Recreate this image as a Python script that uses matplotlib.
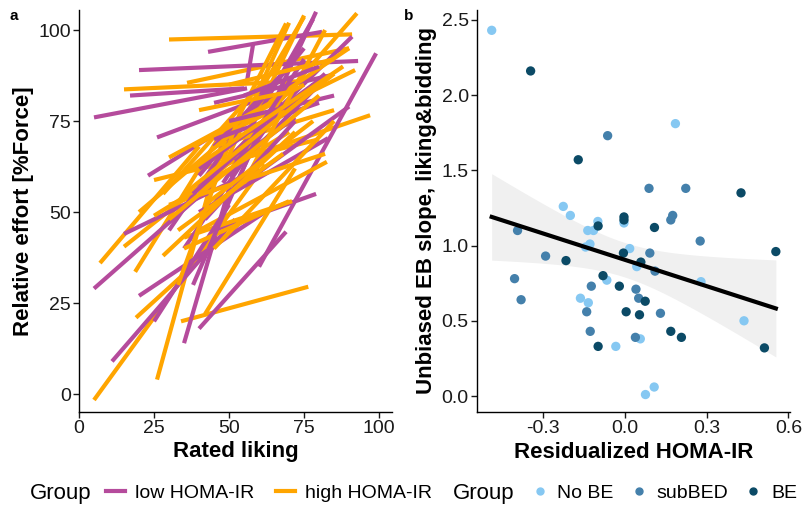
import numpy as np
import matplotlib
matplotlib.use("Agg")
import matplotlib.pyplot as plt
from matplotlib.lines import Line2D

plt.rcParams['font.family'] = ['Liberation Sans', 'DejaVu Sans']

# ----------------------------------------------------------------------
# Panel a data: per-participant fitted lines (start/end in data units)
# ----------------------------------------------------------------------
low_x0 = [5, 17, 20, 43, 26, 23, 60, 45, 40, 35, 11, 5, 20, 15, 25, 48, 50, 45, 50, 40, 40, 55, 35, 45, 30, 50, 38, 52,
          40, 45, 38, 48, 42, 50, 55, 56]
low_y0 = [76, 82, 89, 94, 70.5, 60, 35, 45, 18, 14, 9, 29, 27, 44, 20, 50, 65, 80, 55, 50, 60, 70, 40, 68, 45, 60, 30, 64,
          62, 70, 55, 58, 48, 75, 82, 86]
low_x1 = [56, 55, 93, 81, 60, 66, 99, 79, 69, 52, 52, 45, 62, 60, 50, 79, 91, 84, 90, 83, 75, 78, 68, 70, 55, 80, 60, 72,
          78, 80, 82, 75, 72, 85, 80, 58]
low_y1 = [84, 84, 91.5, 99.5, 81, 82, 93.6, 55, 44.6, 62, 48, 58, 50, 62, 52, 105, 98.2, 87.6, 79, 70.3, 95, 103, 80, 90, 75, 85, 72, 76,
          85, 80, 88, 92, 75, 82, 90, 96]

high_x0 = [30, 15, 36, 45, 5, 26, 34, 19, 7, 18.7, 15, 25, 40, 35, 42, 40, 45, 48, 42, 55, 45, 50, 45, 30, 35, 30, 20, 28, 33, 38, 25, 55, 40,
           35, 30, 38, 42, 28, 50, 33, 45]
high_y0 = [97.4, 83.7, 85.5, 62, -1.6, 4, 20, 21, 36, 33.6, 40.5, 58.8, 45, 43, 22, 55, 62, 62, 58, 70, 70, 72, 68, 52, 40, 65, 50, 55, 30, 68, 49, 58, 78,
           55, 48, 62, 52, 38, 85, 45, 40]
high_x1 = [91, 75, 90, 97, 62, 48, 76.4, 55, 40, 50, 60, 80, 82.6, 71, 72, 92.6, 75, 70, 69, 75, 90, 92, 85, 82, 70, 75, 60, 66, 55, 65, 70, 82, 70,
           85, 80, 88, 78, 72, 85, 68, 85]
high_y1 = [98.8, 86, 95, 76.6, 63, 70, 29.5, 48, 68, 75, 70, 70, 63.8, 53, 62, 104.6, 103.6, 102, 101.8, 104, 95, 89, 78, 66, 53, 85, 78, 90, 80, 80, 72, 100, 83,
           88, 82, 90, 75, 72, 92, 66, 75]

# ----------------------------------------------------------------------
# Panel b data: residualized HOMA-IR vs unbiased EB slope
# ----------------------------------------------------------------------
nobe_x = [-0.49, 0.185, -0.227, -0.201, -0.004, -0.10, -0.137, -0.116, -0.129, -0.145, 0.017, 0.043, 0.279, -0.067, -0.164, -0.135, 0.437, 0.056, -0.034, 0.107, 0.075]
nobe_y = [2.43, 1.81, 1.26, 1.20, 1.15, 1.16, 1.10, 1.10, 1.01, 0.99, 0.98, 0.86, 0.76, 0.77, 0.65, 0.62, 0.50, 0.38, 0.33, 0.06, 0.01]
sub_x = [-0.064, 0.088, 0.223, 0.175, 0.168, -0.395, 0.276, -0.292, 0.091, 0.11, -0.406, -0.382, -0.124, 0.04, 0.05, -0.141, 0.13, -0.128, 0.038]
sub_y = [1.73, 1.38, 1.38, 1.20, 1.17, 1.10, 1.03, 0.93, 0.95, 0.83, 0.78, 0.64, 0.73, 0.71, 0.65, 0.56, 0.55, 0.43, 0.39]
be_x = [-0.347, -0.172, 0.426, -0.004, -0.004, -0.099, 0.108, 0.554, -0.217, -0.006, 0.058, -0.081, -0.021, 0.074, 0.004, 0.053, 0.168, 0.207, -0.099, 0.512]
be_y = [2.16, 1.57, 1.35, 1.19, 1.17, 1.13, 1.12, 0.96, 0.90, 0.95, 0.89, 0.80, 0.73, 0.63, 0.56, 0.54, 0.43, 0.39, 0.33, 0.32]

PURPLE = "#b54b9c"
ORANGE = "#ffa500"
C_NOBE = "#86c8f2"
C_SUB = "#4480ab"
C_BE = "#0b4a66"
TXT = "#1a1a1a"

fig = plt.figure(figsize=(8.02, 5.07), dpi=100)
ax1 = fig.add_axes([79 / 802, 95 / 507, 313 / 802, 402 / 507])
ax2 = fig.add_axes([477 / 802, 95 / 507, 313 / 802, 402 / 507])

# panel a: interleave the two groups (alternate which one lands on top)
n = max(len(low_x0), len(high_x0))
for i in range(n):
    segs = []
    if i < len(low_x0):
        segs.append(([low_x0[i], low_x1[i]], [low_y0[i], low_y1[i]], PURPLE))
    if i < len(high_x0):
        segs.append(([high_x0[i], high_x1[i]], [high_y0[i], high_y1[i]], ORANGE))
    if i % 2 == 0:
        segs = segs[::-1]
    for xx, yy, c in segs:
        ax1.plot(xx, yy, color=c, lw=3, solid_capstyle='butt')
ax1.set_xlim(0, 104.3)
ax1.set_ylim(-4.9, 105.5)
ax1.set_xticks([0, 25, 50, 75, 100])
ax1.set_yticks([0, 25, 50, 75, 100])
ax1.set_xlabel("Rated liking", fontsize=16, fontweight='bold', labelpad=3)
ax1.set_ylabel("Relative effort [%Force]", fontsize=16, fontweight='bold', labelpad=3)

# panel b: scatter + linear fit with 95% CI
ax2.scatter(nobe_x, nobe_y, s=45, color=C_NOBE, edgecolors='none', zorder=3)
ax2.scatter(sub_x, sub_y, s=45, color=C_SUB, edgecolors='none', zorder=3)
ax2.scatter(be_x, be_y, s=45, color=C_BE, edgecolors='none', zorder=3)

all_x = np.array(nobe_x + sub_x + be_x)
all_y = np.array(nobe_y + sub_y + be_y)
b1, b0 = np.polyfit(all_x, all_y, 1)
xs = np.linspace(all_x.min(), all_x.max(), 100)
fit = b0 + b1 * xs
resid = all_y - (b0 + b1 * all_x)
nn = len(all_x)
s_err = np.sqrt(np.sum(resid ** 2) / (nn - 2))
se = s_err * np.sqrt(1 / nn + (xs - all_x.mean()) ** 2 / np.sum((all_x - all_x.mean()) ** 2))
ax2.fill_between(xs, fit - 2.0 * se, fit + 2.0 * se, color="#ebebeb", alpha=0.75, lw=0, zorder=2)
ax2.plot(xs, fit, color='black', lw=3, zorder=4)
ax2.set_xlim(-0.544, 0.606)
ax2.set_ylim(-0.106, 2.565)
ax2.set_xticks([-0.3, 0.0, 0.3, 0.6])
ax2.set_xticklabels(["-0.3", "0.0", "0.3", "0.6"])
ax2.set_yticks([0.0, 0.5, 1.0, 1.5, 2.0, 2.5])
ax2.set_yticklabels(["0.0", "0.5", "1.0", "1.5", "2.0", "2.5"])
ax2.set_xlabel("Residualized HOMA-IR", fontsize=16, fontweight='bold', labelpad=3)
ax2.set_ylabel("Unbiased EB slope, liking&bidding", fontsize=16, fontweight='bold', labelpad=3)

for ax in (ax1, ax2):
    ax.spines['top'].set_visible(False)
    ax.spines['right'].set_visible(False)
    ax.spines['left'].set_linewidth(1.0)
    ax.spines['bottom'].set_linewidth(1.0)
    ax.tick_params(labelsize=14, colors=TXT, length=4, width=1.0, pad=2)

# panel tags
fig.text(10 / 802, 1 - 16 / 507, "a", fontsize=11, fontweight='bold', va='center')
fig.text(404 / 802, 1 - 16 / 507, "b", fontsize=11, fontweight='bold', va='center')

# legends along the bottom
fig.text(30 / 802, 1 - 493 / 507, "Group", fontsize=16, va='center')
h_a = [Line2D([], [], color=PURPLE, lw=3), Line2D([], [], color=ORANGE, lw=3)]
fig.legend(h_a, ["low HOMA-IR", "high HOMA-IR"], ncol=2, frameon=False, fontsize=14,
           loc='center left', bbox_to_anchor=(106 / 802, 1 - 493 / 507),
           handlelength=1.0, handletextpad=0.5, columnspacing=1.1, borderaxespad=0, borderpad=0)
fig.text(453 / 802, 1 - 493 / 507, "Group", fontsize=16, va='center')
h_b = [Line2D([], [], marker='o', ls='', color=c, markersize=5) for c in (C_NOBE, C_SUB, C_BE)]
fig.legend(h_b, ["No BE", "subBED", "BE"], ncol=3, frameon=False, fontsize=14,
           loc='center left', bbox_to_anchor=(530 / 802, 1 - 493 / 507),
           handlelength=1.0, handletextpad=0.4, columnspacing=0.8, borderaxespad=0, borderpad=0)

fig.savefig("out.png", dpi=100)
